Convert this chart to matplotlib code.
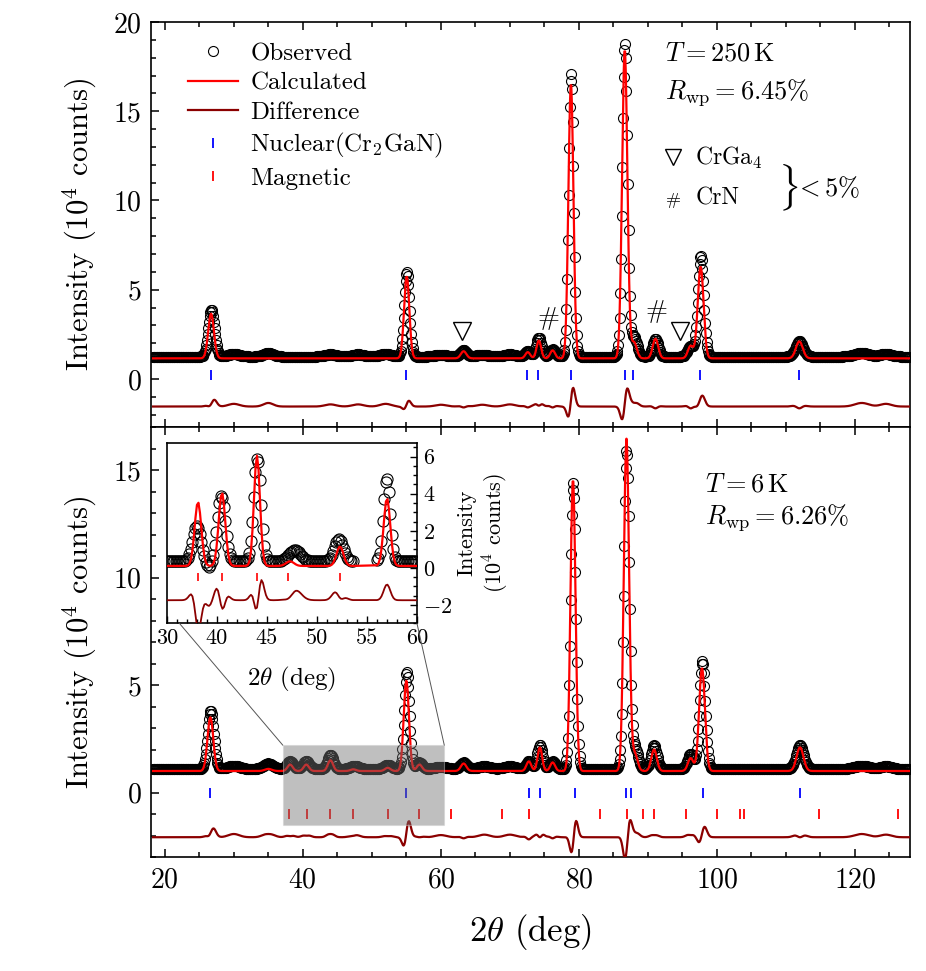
import numpy as np
import matplotlib
matplotlib.use('Agg')
import matplotlib.pyplot as plt
from matplotlib.patches import Rectangle, ConnectionPatch
from matplotlib.lines import Line2D
from matplotlib.ticker import MultipleLocator, FixedLocator

plt.rcParams['font.family'] = ['cmr10', 'DejaVu Serif']
plt.rcParams['mathtext.fontset'] = 'cm'
plt.rcParams['axes.formatter.use_mathtext'] = True
plt.rcParams['axes.unicode_minus'] = True

# ---------------- data ----------------
# 250 K panel: peak tables (position deg, height 1e4 counts above background, width deg)
top_bg_calc = 1.15
top_bg_obs = 1.25
top_calc_pos = [26.70, 55.05, 63.3, 72.6, 74.2, 76.2, 78.85, 86.65, 88.0, 91.1, 96.2, 97.65, 111.95]
top_calc_hgt = [2.50, 4.60, 0.40, 0.35, 1.00, 0.45, 15.45, 17.35, 0.90, 1.10, 0.70, 5.15, 0.95]
top_calc_wid = [0.42, 0.38, 0.40, 0.35, 0.33, 0.35, 0.36, 0.38, 0.40, 0.40, 0.40, 0.42, 0.50]
top_obs_pos = [26.75, 55.08, 63.3, 72.6, 74.2, 76.2, 78.88, 86.68, 88.0, 91.1, 96.2, 97.68, 111.95,
               30.0, 35.0, 44.0, 48.0, 52.0, 60.0, 66.0, 70.0, 121.0, 124.5]
top_obs_hgt = [2.65, 4.75, 0.35, 0.30, 1.05, 0.40, 15.85, 17.55, 1.10, 1.00, 0.60, 5.65, 0.85,
               0.15, 0.20, 0.12, 0.12, 0.15, 0.10, 0.10, 0.12, 0.20, 0.15]
top_obs_wid = [0.45, 0.38, 0.45, 0.40, 0.38, 0.40, 0.36, 0.38, 0.45, 0.42, 0.45, 0.42, 0.55,
               0.8, 0.7, 0.8, 0.8, 0.8, 0.8, 0.8, 0.8, 1.0, 0.8]
top_diff_offset = -1.65
top_nuclear = [26.66, 55.0, 72.5, 74.1, 78.9, 86.7, 87.9, 97.6, 111.9]

# 6 K panel
bot_bg_calc = 1.00
bot_bg_obs = 1.10
bot_calc_pos = [26.6, 35.0, 38.15, 40.5, 44.0, 47.3, 52.3, 55.0, 56.9, 63.3, 72.75, 74.35, 76.2,
                79.15, 86.9, 88.1, 90.9, 96.2, 97.85, 112.05]
bot_calc_hgt = [2.50, 0.10, 0.30, 0.30, 0.50, 0.08, 0.15, 4.20, 0.30, 0.35, 0.45, 1.10, 0.40,
                13.6, 15.45, 0.80, 1.00, 0.60, 4.80, 1.10]
bot_calc_wid = [0.42, 0.50, 0.38, 0.38, 0.38, 0.40, 0.40, 0.38, 0.38, 0.40, 0.35, 0.33, 0.35,
                0.36, 0.38, 0.40, 0.40, 0.40, 0.42, 0.50]
bot_obs_pos = [26.65, 38.15, 40.5, 44.0, 47.5, 52.3, 55.08, 56.9, 63.3, 72.75, 74.35, 76.2,
               79.18, 86.93, 88.1, 90.9, 96.2, 97.9, 112.05,
               30.0, 35.0, 60.0, 66.3, 70.0, 121.0, 124.5]
bot_obs_hgt = [2.70, 0.35, 0.37, 0.65, 0.15, 0.20, 4.50, 0.30, 0.30, 0.35, 1.10, 0.35,
               13.3, 14.8, 1.00, 1.10, 0.70, 5.00, 1.10,
               0.15, 0.25, 0.10, 0.12, 0.12, 0.15, 0.12]
bot_obs_wid = [0.45, 0.45, 0.45, 0.42, 0.60, 0.50, 0.38, 0.42, 0.45, 0.40, 0.38, 0.40,
               0.37, 0.39, 0.45, 0.42, 0.45, 0.42, 0.55,
               0.8, 0.7, 0.8, 0.8, 0.8, 1.0, 0.8]
bot_diff_offset = -2.18
bot_nuclear = [26.5, 54.9, 72.8, 74.4, 79.4, 86.9, 87.6, 98.0, 112.0]
bot_magnetic = [38.05, 40.55, 44.0, 47.2, 52.3, 56.9, 61.4, 68.9, 72.8, 83.0, 86.96, 89.3,
                90.9, 95.5, 100.0, 103.3, 104.0, 114.8, 126.3]

# inset (magnetic region)
ins_bg_calc = 0.10
ins_bg_obs = 0.35
ins_calc_pos = [38.1, 40.5, 44.0, 47.3, 52.3, 57.0]
ins_calc_hgt = [3.45, 3.95, 5.95, 0.25, 1.05, 3.65]
ins_calc_wid = [0.33, 0.33, 0.30, 0.40, 0.35, 0.33]
ins_obs_pos = [38.0, 40.45, 44.05, 47.8, 52.2, 57.0, 39.2]
ins_obs_hgt = [1.90, 3.55, 5.60, 0.60, 1.20, 4.50, -0.35]
ins_obs_wid = [0.42, 0.40, 0.36, 0.60, 0.45, 0.33, 0.30]
ins_diff_offset = -2.0
ins_gap = (53.7, 55.9)
ins_magnetic = [38.1, 40.5, 44.0, 47.1, 52.3]
ins_xticks = [35, 40, 45, 50, 55, 60]
ins_xticklabels = ['30', '40', '45', '50', '55', '60']

step_main = 0.1
step_ins = 0.15


def profile(x, bg, pos, hgt, wid):
    y = np.full_like(x, bg, dtype=float)
    for p, h, w in zip(pos, hgt, wid):
        y = y + h * np.exp(-0.5 * ((x - p) / w) ** 2)
    return y


x_main = np.arange(18.3, 128.0, step_main)

top_obs = profile(x_main, top_bg_obs, top_obs_pos, top_obs_hgt, top_obs_wid)
top_calc = profile(x_main, top_bg_calc, top_calc_pos, top_calc_hgt, top_calc_wid)
top_diff = top_obs - top_calc + top_diff_offset

bot_obs = profile(x_main, bot_bg_obs, bot_obs_pos, bot_obs_hgt, bot_obs_wid)
bot_calc = profile(x_main, bot_bg_calc, bot_calc_pos, bot_calc_hgt, bot_calc_wid)
bot_diff = bot_obs - bot_calc + bot_diff_offset

x_ins = np.arange(35.0, 60.01, step_ins)
x_ins = x_ins[(x_ins < ins_gap[0]) | (x_ins > ins_gap[1])]
ins_obs = profile(x_ins, ins_bg_obs, ins_obs_pos, ins_obs_hgt, ins_obs_wid)
ins_calc = profile(x_ins, ins_bg_calc, ins_calc_pos, ins_calc_hgt, ins_calc_wid)
ins_diff = ins_obs - ins_calc + ins_diff_offset

# ---------------- figure ----------------
fig = plt.figure(figsize=(9.26, 9.71), dpi=100)
ax1 = fig.add_axes([0.1631, 0.5602, 0.8197, 0.4171])
ax2 = fig.add_axes([0.1631, 0.1174, 0.8197, 0.4428], sharex=ax1)

DIFF = '#8b0000'
obs_kw = dict(ls='none', marker='o', ms=7.2, mfc='none', mec='black', mew=0.8)

for ax, obs, calc, diff in ((ax1, top_obs, top_calc, top_diff), (ax2, bot_obs, bot_calc, bot_diff)):
    ax.plot(x_main, obs, zorder=2, **obs_kw)
    ax.plot(x_main, calc, color='red', lw=1.6, zorder=3)
    ax.plot(x_main, diff, color=DIFF, lw=1.6, zorder=3)

ax1.plot(top_nuclear, np.full(len(top_nuclear), 0.2), ls='none', marker='|', ms=6.5, mew=1.3, color='blue')
ax2.plot(bot_nuclear, np.full(len(bot_nuclear), 0.0), ls='none', marker='|', ms=6.5, mew=1.3, color='blue')
ax2.plot(bot_magnetic, np.full(len(bot_magnetic), -1.0), ls='none', marker='|', ms=6.5, mew=1.3, color='red')

ax1.set_xlim(18, 128)
ax1.set_ylim(-2.7, 20)
ax2.set_ylim(-3, 17)

for ax in (ax1, ax2):
    ax.xaxis.set_major_locator(MultipleLocator(20))
    ax.xaxis.set_minor_locator(MultipleLocator(5))
    ax.yaxis.set_major_locator(MultipleLocator(5))
    ax.yaxis.set_minor_locator(MultipleLocator(1))
    ax.tick_params(which='both', direction='in', top=True, right=False, width=1.1, labelsize=20)
    ax.tick_params(which='major', length=6, pad=7)
    ax.tick_params(which='minor', length=3.5)
    for s in ax.spines.values():
        s.set_linewidth(1.2)
    ax.set_ylabel(r'Intensity (10$^4$ counts)', fontsize=22, labelpad=10)
plt.setp(ax1.get_xticklabels(), visible=False)
ax2.set_xlabel(r'2$\theta$ (deg)', fontsize=25, labelpad=14)

# legend
handles = [Line2D([], [], **obs_kw),
           Line2D([], [], color='red', lw=1.6),
           Line2D([], [], color=DIFF, lw=1.6),
           Line2D([], [], ls='none', marker='|', ms=6.5, mew=1.3, color='blue'),
           Line2D([], [], ls='none', marker='|', ms=6.5, mew=1.3, color='red')]
labels = ['Observed', 'Calculated', 'Difference', r'Nuclear(Cr$_2$GaN)', 'Magnetic']
ax1.legend(handles, labels, loc='upper left', bbox_to_anchor=(0.032, 0.98), frameon=False,
           fontsize=18, handlelength=2.0, handletextpad=0.5, labelspacing=0.28, borderpad=0)

# annotations top
t1 = ax1.transAxes
ax1.text(0.677, 0.923, r'$T=250\,\mathrm{K}$', transform=t1, fontsize=19, va='center')
ax1.text(0.677, 0.827, r'$R_{\mathrm{wp}}=6.45\%$', transform=t1, fontsize=19, va='center')
ax1.plot([0.688], [0.667], transform=t1, marker='v', ms=12, mfc='none', mec='black', mew=1.0, ls='none')
ax1.text(0.717, 0.665, r'CrGa$_4$', transform=t1, fontsize=17, va='center')
ax1.text(0.688, 0.56, '#', transform=t1, fontsize=13, va='center', ha='center')
ax1.text(0.717, 0.565, 'CrN', transform=t1, fontsize=17, va='center')
ax1.text(0.826, 0.59, r'$\}$', transform=t1, fontsize=28, va='center')
ax1.text(0.848, 0.59, r'$<5\%$', transform=t1, fontsize=19, va='center')

# peak markers
ax1.plot([63.1, 94.7], [2.7, 2.7], ls='none', marker='v', ms=13, mfc='none', mec='black', mew=1.0)
ax1.text(75.6, 3.4, '#', fontsize=19, ha='center', va='center')
ax1.text(91.3, 3.8, '#', fontsize=19, ha='center', va='center')

# annotations bottom
t2 = ax2.transAxes
ax2.text(0.73, 0.865, r'$T=6\,\mathrm{K}$', transform=t2, fontsize=19, va='center')
ax2.text(0.73, 0.79, r'$R_{\mathrm{wp}}=6.26\%$', transform=t2, fontsize=19, va='center')

# shaded zoom region
rect = Rectangle((37.1, -1.5), 23.4, 3.7, facecolor='#737373', alpha=0.45,
                 edgecolor='#cccccc', lw=0.8, zorder=5)
ax2.add_patch(rect)

# inset
axi = fig.add_axes([0.1803, 0.358, 0.2700, 0.186])
axi.plot(x_ins, ins_obs, ls='none', marker='o', ms=8, mfc='none', mec='black', mew=0.8, zorder=2)
axi.plot(x_ins, ins_calc, color='red', lw=1.6, zorder=3)
axi.plot(x_ins, ins_diff, color=DIFF, lw=1.3, zorder=3)
axi.plot(ins_magnetic, np.full(len(ins_magnetic), -0.5), ls='none', marker='|', ms=6, mew=1.2, color='red')
axi.set_xlim(35, 60)
axi.set_ylim(-3, 6.75)
axi.xaxis.set_major_locator(FixedLocator(ins_xticks))
axi.set_xticklabels(ins_xticklabels)
axi.xaxis.set_minor_locator(MultipleLocator(1))
axi.yaxis.set_major_locator(MultipleLocator(2))
axi.yaxis.set_minor_locator(MultipleLocator(0.5))
axi.yaxis.tick_right()
axi.yaxis.set_label_position('right')
axi.tick_params(which='both', direction='in', left=False, top=False, right=True, bottom=True,
                width=1.0, labelsize=16)
axi.tick_params(which='major', length=5, pad=4)
axi.tick_params(which='minor', length=3)
for s in axi.spines.values():
    s.set_linewidth(1.2)
axi.set_xlabel(r'2$\theta$ (deg)', fontsize=18, labelpad=12)
axi.set_ylabel('Intensity\n' + r'(10$^4$ counts)', fontsize=16, labelpad=4)

for xa, xb in ((0.05, 37.1), (1.0, 60.5)):
    cp = ConnectionPatch(xyA=(xa, 0.0), coordsA=axi.transAxes, xyB=(xb, 2.2), coordsB=ax2.transData,
                         color='#555555', lw=0.7)
    fig.add_artist(cp)

fig.savefig('out.png', dpi=100)
